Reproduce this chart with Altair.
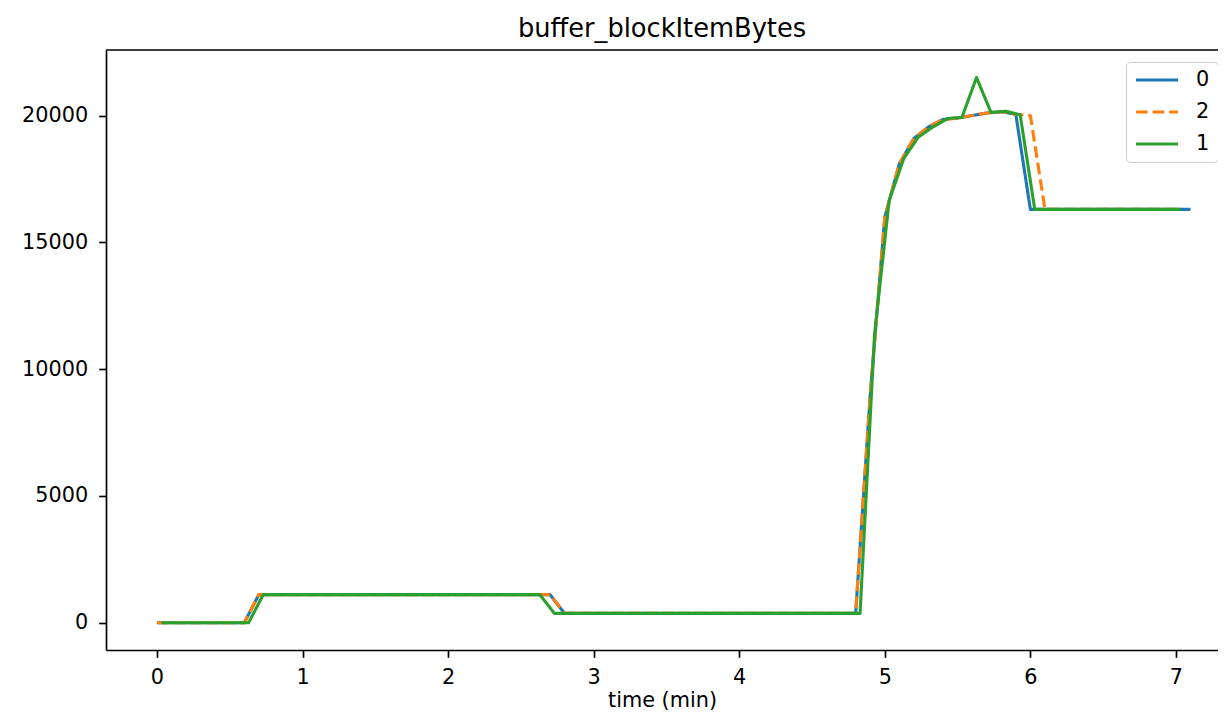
import altair as alt
import pandas as pd

# ---- data ----
series_order = ["0", "2", "1"]
series_colors = ["#1f77b4", "#ff7f0e", "#2ca02c"]

# series "0" (blue), sampled every 0.1 min from 0.0 to 7.1
time_0 = [round(0.1 * k, 2) for k in range(72)]
value_0 = ([0] * 7 + [1110] * 21 + [370] * 21 +
           [9000, 16000, 18100, 19100, 19550, 19850, 19900, 20000, 20100, 20150, 20050] +
           [16300] * 12)

# series "2" (orange, dashed), 0.0 .. 7.0
time_2 = [round(0.1 * k, 2) for k in range(71)]
value_2 = ([0] * 7 + [1110] * 21 + [370] * 21 +
           [9000, 16000, 18100, 19100, 19550, 19850, 19900, 20000, 20100, 20150, 20050] +
           [20000] + [16300] * 10)

# series "1" (green), 0.03 .. 7.03
time_1 = [round(0.03 + 0.1 * k, 2) for k in range(71)]
value_1 = ([0] * 7 + [1110] * 20 + [370] * 22 +
           [11400, 16650, 18300, 19150, 19550, 19880, 19930, 21500, 20120, 20170, 20030] +
           [16300] * 11)

x_ticks = [0, 1, 2, 3, 4, 5, 6, 7]
y_ticks = [0, 5000, 10000, 15000, 20000]

rows = []
for name, ts, vs in (("0", time_0, value_0), ("2", time_2, value_2), ("1", time_1, value_1)):
    for t, v in zip(ts, vs):
        rows.append({"series": name, "time": t, "value": v})
df = pd.DataFrame(rows)

FONT = "DejaVu Sans"
PLOT_W = 1112
PLOT_H = 600

legend = alt.Legend(
    title=None, orient="none", legendX=1020, legendY=12,
    symbolType="stroke", symbolSize=1764, symbolStrokeWidth=3.1,
    labelFont=FONT, labelFontSize=20.8, labelColor="black", labelOffset=16,
    rowPadding=11, clipHeight=20, padding=8,
    strokeColor="#cccccc", fillColor="rgba(255,255,255,0.8)", cornerRadius=4,
)

color_scale = alt.Scale(domain=series_order, range=series_colors)
dash_scale = alt.Scale(domain=series_order, range=[[1, 0], [11.6, 5], [1, 0]])

x_enc = alt.X("time:Q",
              scale=alt.Scale(domain=[-0.35, -0.35 + PLOT_W / 145.57], nice=False, zero=False),
              axis=alt.Axis(values=x_ticks, format="d", title="time (min)",
                            titlePadding=3, labelPadding=10))
y_enc = alt.Y("value:Q",
              scale=alt.Scale(domain=[-1075, 22585], nice=False, zero=False),
              axis=alt.Axis(values=y_ticks, format="d", title=None, labelPadding=11))


def series_layer(name):
    return (
        alt.Chart(df)
        .transform_filter(alt.datum.series == name)
        .mark_line(strokeWidth=3.1, strokeJoin="round")
        .encode(
            x=x_enc,
            y=y_enc,
            color=alt.Color("series:N", scale=color_scale, legend=legend),
            strokeDash=alt.StrokeDash("series:N", scale=dash_scale, legend=legend),
        )
    )


# top spine of the frame (the right spine lies outside the visible page)
top_spine = (
    alt.Chart(pd.DataFrame({"k": [0]}))
    .mark_rule(color="black", strokeWidth=1.67)
    .encode(x=alt.value(0), x2=alt.value(PLOT_W + 20), y=alt.value(0))
)

chart = (
    alt.layer(series_layer("0"), series_layer("2"), series_layer("1"), top_spine)
    .properties(
        width=PLOT_W,
        height=PLOT_H,
        title=alt.TitleParams("buffer_blockItemBytes", font=FONT, fontSize=25.7,
                              fontWeight="normal", color="black", anchor="middle", offset=6),
        autosize=alt.AutoSizeParams(type="none"),
        padding={"left": 98, "top": 42, "right": 0, "bottom": 62},
    )
    .configure_view(stroke=None)
    .configure_axis(
        grid=False,
        domainColor="black", domainWidth=1.67,
        tickColor="black", tickWidth=1.67, tickSize=7.3,
        labelFont=FONT, labelFontSize=20.8, labelColor="black",
        titleFont=FONT, titleFontSize=20.8, titleFontWeight="normal", titleColor="black",
    )
)

chart.save("out.html", embed_options={"renderer": "svg", "actions": False})
